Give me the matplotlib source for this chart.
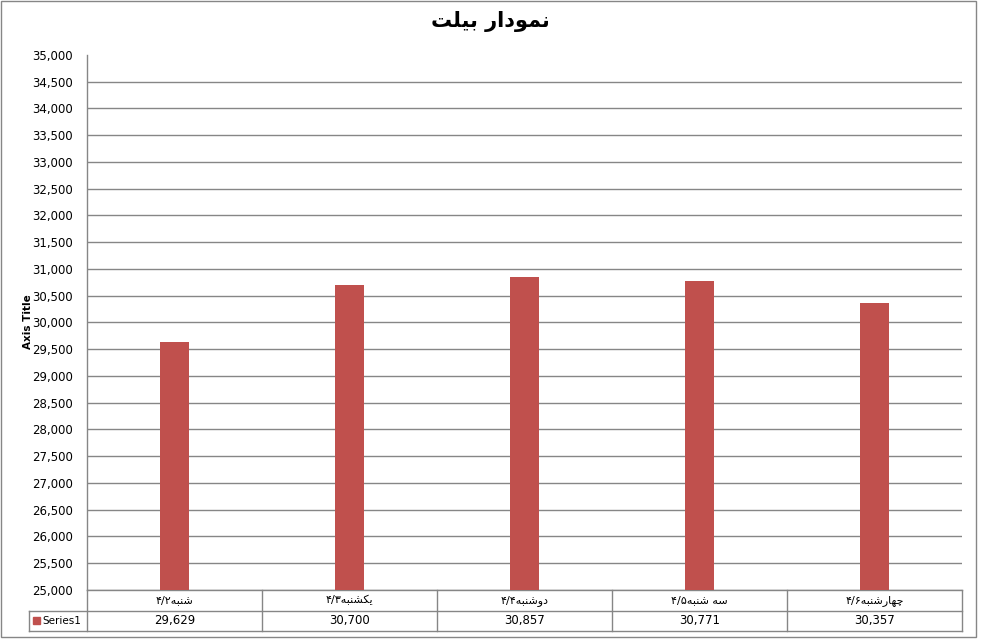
import matplotlib
matplotlib.use('Agg')
import matplotlib.pyplot as plt
from matplotlib.patches import Rectangle
from matplotlib.ticker import FuncFormatter
import matplotlib.transforms as mtransforms

# Arabic text kept in visual (left-to-right) order with presentation forms,
# since matplotlib does no bidi / shaping on its own
title = '\ufe96\ufee0\ufef4\ufe91 \ufead\ufe8d\ufea9\ufeee\ufee4\ufee7'   # نمودار بیلت
days = [
    '\u06f4/\u06f2\ufeea\ufe92\ufee8\ufeb7',                          # شنبه۲/۴
    '\u06f4/\u06f3\ufeea\ufe92\ufee8\ufeb8\ufedc\ufef3',              # یکشنبه۳/۴
    '\u06f4/\u06f4\ufeea\ufe92\ufee8\ufeb7\ufeed\ufea9',              # دوشنبه۴/۴
    '\u06f4/\u06f5\ufeea\ufe92\ufee8\ufeb7 \ufeea\ufeb3',             # سه شنبه۵/۴
    '\u06f4/\u06f6\ufeea\ufe92\ufee8\ufeb7\ufead\ufe8e\ufeec\ufb7c',  # چهارشنبه۶/۴
]
values = [29629, 30700, 30857, 30771, 30357]
series_name = 'Series1'
y_ticks = list(range(25000, 35001, 500))

bar_color = '#C0504D'
line_color = '#868686'

plt.rcParams['font.family'] = ['DejaVu Sans']

W, H = 982, 644
fig = plt.figure(figsize=(W / 100, H / 100), dpi=100)
# plot area in pixels: x 87..962, y 55..590
ax = fig.add_axes([87 / W, (H - 590) / H, 875 / W, 535 / H])

x = list(range(len(values)))
ax.bar(x, values, width=0.166, color=bar_color, zorder=3)

ax.set_xlim(-0.5, len(values) - 0.5)
ax.set_ylim(y_ticks[0], y_ticks[-1])
ax.set_yticks(y_ticks)
ax.yaxis.set_major_formatter(FuncFormatter(lambda v, p: f'{int(v):,}'))
ax.tick_params(axis='y', length=0, pad=10, labelsize=8.5, colors='black')
ax.set_xticks([])

ax.grid(axis='y', color=line_color, linewidth=1, zorder=0)
ax.get_ygridlines()[-1].set_visible(False)   # no line at the top value
for s in ['top', 'right']:
    ax.spines[s].set_visible(False)
for s in ['left', 'bottom']:
    ax.spines[s].set_color(line_color)
    ax.spines[s].set_linewidth(1)

# data table under the axis
h = 20.5 / 535
lab_left = -58 / 875
kw = dict(transform=ax.transAxes, clip_on=False, color=line_color, lw=1)
ax.plot([lab_left, 1], [-h, -h], **kw)
ax.plot([lab_left, 1], [-2 * h, -2 * h], **kw)
ax.plot([lab_left, lab_left], [-2 * h, -h], **kw)
ax.plot([0, 0], [-2 * h, 0], **kw)
for i in range(1, len(values) + 1):
    xf = i / len(values)
    ax.plot([xf, xf], [-2 * h, 0], **kw)

blend = mtransforms.blended_transform_factory(ax.transData, ax.transAxes)
for xi, d, v in zip(x, days, values):
    ax.text(xi, -0.5 * h, d, transform=blend, ha='center', va='center', fontsize=8)
    ax.text(xi, -1.5 * h, f'{v:,}', transform=blend, ha='center', va='center', fontsize=8.5)

ax.add_patch(Rectangle((-54 / 875, -1.5 * h - 3.5 / 535), 7 / 875, 7 / 535,
                       transform=ax.transAxes, clip_on=False, color=bar_color))
ax.text(-45 / 875, -1.5 * h, series_name, transform=ax.transAxes,
        ha='left', va='center', fontsize=7.5)

fig.text(28 / W, 0.5, 'Axis Title', rotation=90, ha='center', va='center',
         fontsize=7.5, fontweight='bold')
fig.text(490 / W, (H - 22) / H, title, ha='center', va='center',
         fontsize=15, fontweight='bold')

# chart frame
fig.add_artist(Rectangle((1 / W, (H - 637) / H), 975 / W, 636 / H,
                         transform=fig.transFigure, fill=False,
                         edgecolor=line_color, lw=1))

fig.savefig('out.png', dpi=100)
